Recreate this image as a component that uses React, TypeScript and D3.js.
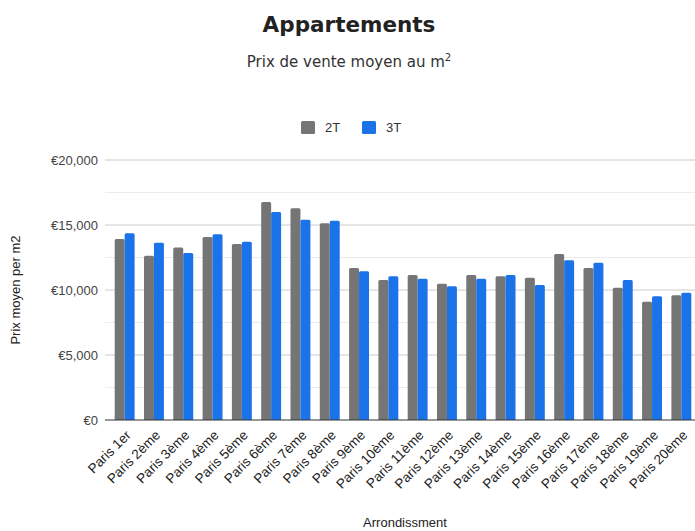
import React from "react";
import * as d3 from "d3";

const categories = ["Paris 1er","Paris 2ème","Paris 3ème","Paris 4ème","Paris 5ème","Paris 6ème","Paris 7ème","Paris 8ème","Paris 9ème","Paris 10ème","Paris 11ème","Paris 12ème","Paris 13ème","Paris 14ème","Paris 15ème","Paris 16ème","Paris 17ème","Paris 18ème","Paris 19ème","Paris 20ème"];
const series2T = [13920,12640,13260,14080,13540,16770,16280,15130,11690,10770,11150,10490,11150,11050,10950,12770,11690,10180,9100,9590];
const series3T = [14360,13640,12850,14280,13720,16000,15410,15330,11440,11050,10870,10280,10870,11150,10380,12280,12100,10770,9510,9790];
const seriesNames = ["2T","3T"];
const colors = ["#757575","#1a73e8"];
const majorTicks = [0,5000,10000,15000,20000];
const minorTicks = [2500,7500,12500,17500];

const W = 695, H = 531;
const left = 110, right = 696, top = 160, bottom = 420;

export default function App() {
  const x = d3.scaleBand<string>().domain(categories).range([left, right]).paddingInner(0.32).paddingOuter(0.16);
  const y = d3.scaleLinear().domain([0, 20000]).range([bottom, top]);
  const inner = d3.scaleBand<string>().domain(seriesNames).range([0, x.bandwidth()]);
  const fmt = (v: number) => "€" + d3.format(",")(v);
  const data = [series2T, series3T];
  const barPath = (x0: number, w: number, y0: number, y1: number) => {
    const r = 1.5;
    return `M${x0},${y1}V${y0 + r}Q${x0},${y0} ${x0 + r},${y0}H${x0 + w - r}Q${x0 + w},${y0} ${x0 + w},${y0 + r}V${y1}Z`;
  };
  return (
    <svg width={W} height={H} style={{ position: "absolute", left: 0, top: 0, background: "#fff" }}>
      <rect width={W} height={H} fill="#fff" />
      <text x={349} y={32} textAnchor="middle" fontFamily="'DejaVu Sans', sans-serif" fontWeight={700} fontSize={21.5} fill="#222">Appartements</text>
      <text x={349} y={67} textAnchor="middle" fontFamily="'DejaVu Sans', sans-serif" fontSize={15} fill="#333">
        Prix de vente moyen au m<tspan fontSize={10} dy={-6}>2</tspan>
      </text>
      {seriesNames.map((s, i) => (
        <g key={s} transform={`translate(${301 + i * 61},121)`}>
          <rect width={14} height={13} rx={1.5} fill={colors[i]} />
          <text x={24} y={11} fontFamily="'Liberation Sans', Arial, sans-serif" fontSize={13} fill="#333">{s}</text>
        </g>
      ))}
      {minorTicks.map(t => (
        <line key={"m" + t} x1={105} x2={695} y1={y(t)} y2={y(t)} stroke="#ebebeb" strokeWidth={1} />
      ))}
      {majorTicks.filter(t => t > 0).map(t => (
        <line key={"M" + t} x1={105} x2={695} y1={y(t)} y2={y(t)} stroke="#cccccc" strokeWidth={1} />
      ))}
      {majorTicks.map(t => (
        <text key={"l" + t} x={98} y={y(t) + 4.5} textAnchor="end" fontFamily="'Liberation Sans', Arial, sans-serif" fontSize={13} fill="#444">{fmt(t)}</text>
      ))}
      {categories.map((c, ci) => (
        <g key={c}>
          {data.map((arr, si) => {
            const bx = (x(c) as number) + (inner(seriesNames[si]) as number);
            return <path key={si} d={barPath(bx, inner.bandwidth(), y(arr[ci]), y(0))} fill={colors[si]} />;
          })}
        </g>
      ))}
      <line x1={105} x2={695} y1={bottom} y2={bottom} stroke="#333" strokeWidth={1.2} />
      {categories.map(c => {
        const cx = (x(c) as number) + x.bandwidth() / 2;
        return (
          <text key={"x" + c} transform={`translate(${cx + 7},${436}) rotate(-45)`} textAnchor="end" fontFamily="'Liberation Sans', Arial, sans-serif" fontSize={13.5} fill="#222">{c}</text>
        );
      })}
      <text x={405} y={527} textAnchor="middle" fontFamily="'Liberation Sans', Arial, sans-serif" fontSize={13} fill="#222">Arrondissment</text>
      <text transform={`translate(20,290) rotate(-90)`} textAnchor="middle" fontFamily="'Liberation Sans', Arial, sans-serif" fontSize={13} fill="#222">Prix moyen per m2</text>
    </svg>
  );
}
